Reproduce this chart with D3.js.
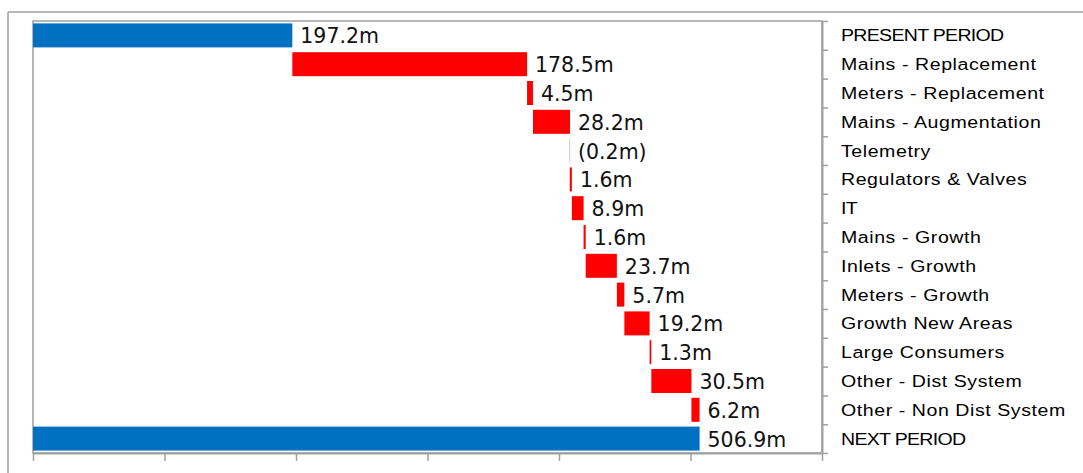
<!DOCTYPE html>
<html>
<head>
<meta charset="utf-8">
<script src="https://cdn.jsdelivr.net/npm/d3@7"></script>
<style>
  html, body { margin: 0; padding: 0; background: #ffffff; }
  svg { display: block; }
</style>
</head>
<body>
<svg id="chart" width="1083" height="473"></svg>
<script>
// Capital expenditure bridge: present period to next period ($m)
const categories = [
  "PRESENT PERIOD",
  "Mains - Replacement",
  "Meters - Replacement",
  "Mains - Augmentation",
  "Telemetry",
  "Regulators & Valves",
  "IT",
  "Mains - Growth",
  "Inlets - Growth",
  "Meters - Growth",
  "Growth New Areas",
  "Large Consumers",
  "Other - Dist System",
  "Other - Non Dist System",
  "NEXT PERIOD"
];
const values = [197.2, 178.5, 4.5, 28.2, -0.2, 1.6, 8.9, 1.6, 23.7, 5.7, 19.2, 1.3, 30.5, 6.2, 506.9];
const totalRows = ["PRESENT PERIOD", "NEXT PERIOD"];
const xTicks = [0, 100, 200, 300, 400, 500, 600];

const svg = d3.select("#chart");
const plot = { left: 33, right: 822, top: 21, bottom: 453 };
const grey = "#a0a0a0";

// outer frame
svg.append("line").attr("x1", 8).attr("x2", 1083).attr("y1", 12).attr("y2", 12)
  .attr("stroke", grey).attr("stroke-width", 1.5);
svg.append("line").attr("x1", 8).attr("x2", 8).attr("y1", 12).attr("y2", 473)
  .attr("stroke", grey).attr("stroke-width", 1.5);

const x = d3.scaleLinear().domain([0, 600]).range([plot.left, plot.right]);
const y = d3.scaleBand().domain(categories).range([plot.top, plot.bottom])
  .paddingInner(1 / 6).paddingOuter(1 / 12);

// build waterfall segments
let running = 0;
const rows = categories.map((c, i) => {
  const v = values[i];
  let start, end;
  if (totalRows.includes(c)) {
    start = 0; end = v; running = v;
  } else {
    start = running; end = running + v; running = end;
  }
  return { cat: c, value: v, start, end, total: totalRows.includes(c) };
});

// plot frame
svg.append("rect")
  .attr("x", plot.left).attr("y", plot.top)
  .attr("width", plot.right - plot.left).attr("height", plot.bottom - plot.top)
  .attr("fill", "none").attr("stroke", grey).attr("stroke-width", 1.5);

// bars
svg.append("g").selectAll("rect").data(rows).join("rect")
  .attr("x", d => x(Math.min(d.start, d.end)))
  .attr("y", d => y(d.cat))
  .attr("width", d => Math.abs(x(d.end) - x(d.start)))
  .attr("height", y.bandwidth())
  .attr("fill", d => d.total ? "#0070C0" : "#FF0000");

// value labels
const fmt = v => v < 0 ? `(${Math.abs(v).toFixed(1)}m)` : `${v.toFixed(1)}m`;
svg.append("g").selectAll("text").data(rows).join("text")
  .attr("x", d => x(Math.max(d.start, d.end)) + 8)
  .attr("y", d => y(d.cat) + y.bandwidth() / 2 + 1)
  .attr("dominant-baseline", "central")
  .attr("font-family", "DejaVu Sans")
  .attr("font-size", 20.5)
  .attr("fill", "#111")
  .text(d => fmt(d.value));

// bottom axis (unlabelled)
const xAxis = svg.append("g")
  .attr("transform", `translate(0,${plot.bottom})`)
  .call(d3.axisBottom(x).tickValues(xTicks).tickFormat("").tickSize(8).tickSizeOuter(0));
xAxis.select(".domain").attr("stroke", grey).attr("stroke-width", 2);
xAxis.selectAll(".tick line").attr("stroke", grey).attr("stroke-width", 1.5);

// right axis: ticks at row boundaries
const edge = d3.scaleLinear().domain([0, categories.length]).range([plot.top, plot.bottom]);
const rAxis = svg.append("g")
  .attr("transform", `translate(${plot.right},0)`)
  .call(d3.axisRight(edge).tickValues(d3.range(categories.length + 1)).tickFormat("").tickSize(6).tickSizeOuter(0));
rAxis.select(".domain").attr("stroke", grey).attr("stroke-width", 2);
rAxis.selectAll(".tick line").attr("stroke", grey).attr("stroke-width", 1.5);

// category labels, drawn slightly wide
svg.append("g").selectAll("text").data(categories).join("text")
  .attr("transform", d => `translate(${plot.right + 19},${y(d) + y.bandwidth() / 2}) scale(1.15,1)`)
  .attr("dominant-baseline", "central")
  .attr("font-family", "Liberation Sans, Arial, sans-serif")
  .attr("font-size", 17)
  .attr("letter-spacing", d => d === d.toUpperCase() ? -0.6 : 0.5)
  .attr("fill", "#000")
  .text(d => d);
</script>
</body>
</html>
